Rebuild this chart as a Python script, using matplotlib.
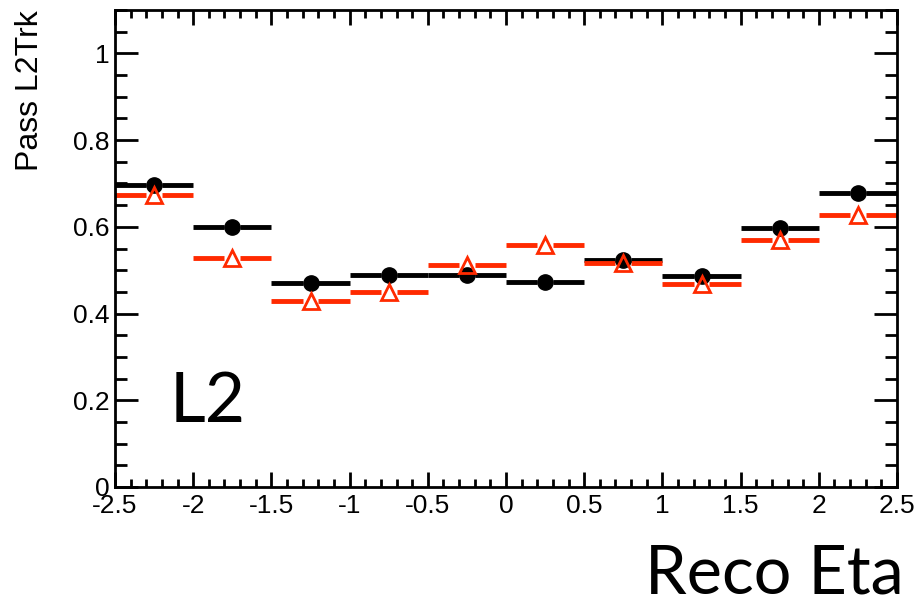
import numpy as np
import matplotlib.pyplot as plt
from matplotlib.ticker import MultipleLocator, FormatStrFormatter

plt.rcParams['axes.unicode_minus'] = False
plt.rcParams['font.family'] = ['Liberation Sans', 'DejaVu Sans']

# bins in eta
eta_centers = [-2.25, -1.75, -1.25, -0.75, -0.25, 0.25, 0.75, 1.25, 1.75, 2.25]
half_width = 0.25
# efficiencies
eff_black = [0.696, 0.600, 0.470, 0.488, 0.490, 0.472, 0.523, 0.487, 0.597, 0.678]
eff_red = [0.674, 0.528, 0.429, 0.450, 0.513, 0.557, 0.517, 0.469, 0.570, 0.627]

red = '#ff2a00'

fig = plt.figure(figsize=(9.18, 6.12), dpi=100)
ax = fig.add_axes([115 / 918, 1 - 487 / 612, 782 / 918, 477 / 612])

x = np.array(eta_centers)
gap = 0.05  # ROOT leaves a gap in the error bar around the marker
for vals, col in [(eff_black, 'black'), (eff_red, red)]:
    y = np.array(vals)
    ax.hlines(y, x - half_width, x - gap, color=col, lw=3.5, capstyle='butt')
    ax.hlines(y, x + gap, x + half_width, color=col, lw=3.5, capstyle='butt')

ax.plot(x, eff_black, 'o', color='black', ms=11, zorder=3, linestyle='none')
ax.plot(x, eff_red, '^', mfc='none', mec=red, mew=2, ms=12, zorder=4,
        linestyle='none')

ax.set_xlim(-2.5, 2.5)
ax.set_ylim(0, 1.1)
ax.xaxis.set_major_locator(MultipleLocator(0.5))
ax.xaxis.set_minor_locator(MultipleLocator(0.1))
ax.yaxis.set_major_locator(MultipleLocator(0.2))
ax.yaxis.set_minor_locator(MultipleLocator(0.05))
ax.xaxis.set_major_formatter(FormatStrFormatter('%g'))
ax.yaxis.set_major_formatter(FormatStrFormatter('%g'))

ax.tick_params(axis='both', which='both', direction='in', top=True, right=True,
               labelsize=19, width=2, color='black')
ax.tick_params(axis='x', which='major', length=11, pad=5)
ax.tick_params(axis='x', which='minor', length=5.5)
ax.tick_params(axis='y', which='major', length=16.5, pad=4)
ax.tick_params(axis='y', which='minor', length=8.5)
for s in ax.spines.values():
    s.set_linewidth(2)

fig.text(30 / 918, 1 - 10 / 612, 'Pass L2Trk', fontsize=23, rotation=90,
         ha='center', va='top')

ax.text(-2.15, 0.15, 'L2', fontsize=50, family=['Lato', 'DejaVu Sans'])
fig.text(0.985, 0.01, 'Reco Eta', fontsize=48, ha='right', va='bottom',
         family=['Lato', 'DejaVu Sans'])

plt.savefig('out.png', dpi=100)
